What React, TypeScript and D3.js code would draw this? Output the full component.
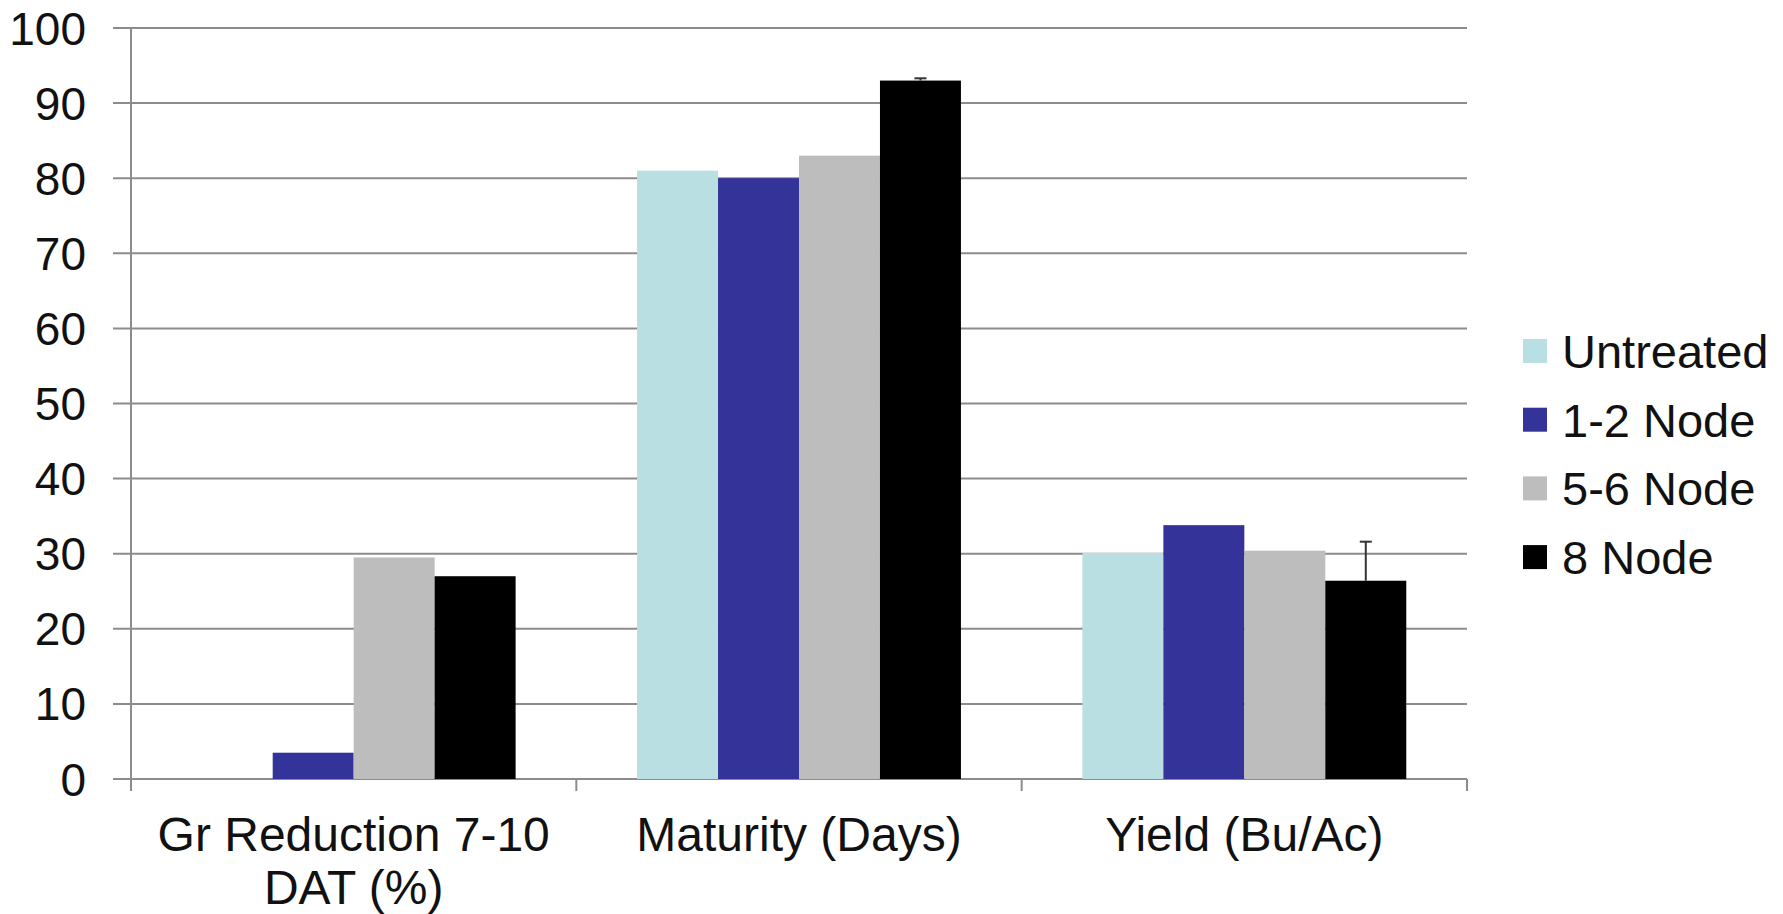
import React from "react";
import * as d3 from "d3";

const categories = ["Gr Reduction 7-10|DAT (%)", "Maturity (Days)", "Yield (Bu/Ac)"];
const seriesNames = ["Untreated", "1-2 Node", "5-6 Node", "8 Node"];
const seriesColors = ["#B9DFE2", "#333399", "#BDBDBD", "#000000"];

const untreated = [0, 81, 30.1];
const node12 = [3.5, 80, 33.8];
const node56 = [29.5, 83, 30.4];
const node8 = [27, 93, 26.4];
const node8Err = [0, 0.3, 5.2];

const yTicks = [0, 10, 20, 30, 40, 50, 60, 70, 80, 90, 100];

const W = 1783;
const H = 914;
const FONT = "'Liberation Sans', Arial, sans-serif";

export default function App() {
  const values = [untreated, node12, node56, node8];
  const errors = [null, null, null, node8Err];

  const left = 131;
  const right = 1467;
  const top = 28;
  const bottom = 779;

  const y = d3.scaleLinear().domain([0, 100]).range([bottom, top]);
  const x0 = d3.scaleBand<string>().domain(categories).range([left, right]).padding(0);
  const x1 = d3
    .scaleBand<string>()
    .domain(seriesNames)
    .range([0, x0.bandwidth()])
    .paddingInner(0)
    .paddingOuter(0.75);

  const grid = "#8c8c8c";
  const boundaries = [left, ...categories.map((c) => (x0(c) as number) + x0.bandwidth())];

  return (
    <svg
      width={W}
      height={H}
      style={{ position: "absolute", left: 0, top: 0, background: "#fff" }}
      fontFamily={FONT}
    >
      {/* gridlines + y ticks */}
      {yTicks.map((t) => (
        <g key={t}>
          <line x1={left - 18} x2={right} y1={y(t)} y2={y(t)} stroke={grid} strokeWidth={2} />
          <text x={86} y={y(t)} dy="0.36em" textAnchor="end" fontSize={46} fill="#111">
            {t}
          </text>
        </g>
      ))}
      {/* y axis */}
      <line x1={left} x2={left} y1={top} y2={bottom} stroke={grid} strokeWidth={2} />
      {/* x category ticks */}
      {boundaries.map((b, i) => (
        <line key={i} x1={b} x2={b} y1={bottom} y2={bottom + 12} stroke={grid} strokeWidth={2} />
      ))}

      {/* bars */}
      {categories.map((c, ci) => (
        <g key={c} transform={`translate(${x0(c)},0)`}>
          {seriesNames.map((s, si) => {
            const v = values[si][ci];
            if (v <= 0) return null;
            return (
              <rect
                key={s}
                x={x1(s)}
                y={y(v)}
                width={x1.bandwidth()}
                height={y(0) - y(v)}
                fill={seriesColors[si]}
              />
            );
          })}
          {seriesNames.map((s, si) => {
            const e = errors[si];
            if (!e || !e[ci]) return null;
            const v = values[si][ci];
            const cx = (x1(s) as number) + x1.bandwidth() / 2;
            return (
              <g key={"e" + s} stroke="#333" strokeWidth={2}>
                <line x1={cx} x2={cx} y1={y(v)} y2={y(v + e[ci])} />
                <line x1={cx - 6} x2={cx + 6} y1={y(v + e[ci])} y2={y(v + e[ci])} />
              </g>
            );
          })}
        </g>
      ))}

      {/* x labels */}
      {categories.map((c) => {
        const cx = (x0(c) as number) + x0.bandwidth() / 2;
        return (
          <text key={c} x={cx} y={851} textAnchor="middle" fontSize={48} fill="#111">
            {c.split("|").map((line, li) => (
              <tspan key={li} x={cx} dy={li === 0 ? 0 : 53}>
                {line}
              </tspan>
            ))}
          </text>
        );
      })}

      {/* legend */}
      {seriesNames.map((s, i) => {
        const cy = 351 + i * 68.7;
        return (
          <g key={s}>
            <rect x={1523} y={cy - 12} width={24} height={24} fill={seriesColors[i]} />
            <text x={1562} y={cy} dy="0.36em" fontSize={47} fill="#111">
              {s}
            </text>
          </g>
        );
      })}
    </svg>
  );
}
